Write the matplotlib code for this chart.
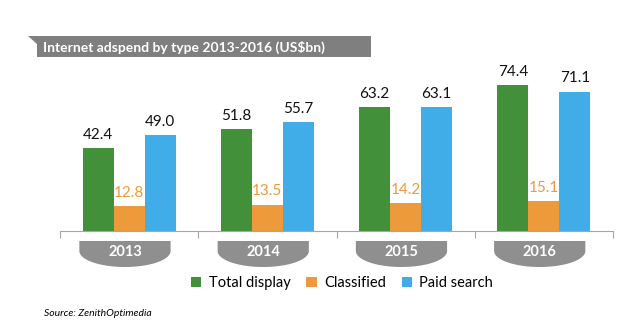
import matplotlib
matplotlib.use("Agg")
import matplotlib.pyplot as plt
import numpy as np
from matplotlib.patches import Polygon, Patch
from matplotlib.transforms import blended_transform_factory

plt.rcParams["font.family"] = ["Lato", "DejaVu Sans"]

years = ["2013", "2014", "2015", "2016"]
series = ["Total display", "Classified", "Paid search"]
total_display = [42.4, 51.8, 63.2, 74.4]
classified = [12.8, 13.5, 14.2, 15.1]
paid_search = [49.0, 55.7, 63.1, 71.1]
colors = ["#43903A", "#EC9A3A", "#40ADE8"]
label_colors = ["#111111", "#EC9A3A", "#111111"]

W, H = 640, 333
fig = plt.figure(figsize=(W / 100, H / 100), dpi=100)

# axes placed in pixel terms: x 60..613, baseline at y=231
ax = fig.add_axes([60 / W, 1 - 231 / H, 553 / W, (231 - 78) / H])
x = np.arange(len(years))
width = 0.224
for i, (vals, c, lc) in enumerate(zip([total_display, classified, paid_search], colors, label_colors)):
    pos = x + (i - 1) * width
    ax.bar(pos, vals, width, color=c, linewidth=0)
    for p, v in zip(pos, vals):
        ax.text(p, v + 3.2, f"{v:.1f}", ha="center", va="bottom", fontsize=11, color=lc)

ax.set_xlim(-0.5, len(years) - 0.5)
ax.set_ylim(0, (231 - 78) / 1.96)
for s in ["top", "right", "left"]:
    ax.spines[s].set_visible(False)
ax.spines["bottom"].set_color("#a6a6a6")
ax.set_yticks([])
ax.set_xticks(np.arange(-0.5, len(years)), labels=[""] * (len(years) + 1))
ax.tick_params(axis="x", direction="out", length=5, color="#a6a6a6")

# year "bowl" labels under the axis
tr = blended_transform_factory(ax.transData, fig.transFigure)
half = 0.33
shift = -0.03
top, side, bottom = 1 - 241 / H, 1 - 251 / H, 1 - 267 / H
t = np.linspace(0, np.pi, 60)
for xi, yr in zip(x + shift, years):
    arc_x = xi + half * np.cos(t)
    arc_y = side - (side - bottom) * np.sin(t)
    pts = [(xi - half, top), (xi + half, top)] + list(zip(arc_x, arc_y)) + [(xi - half, top)]
    fig.add_artist(Polygon(pts, closed=True, transform=tr, facecolor="#8f8f8f",
                           edgecolor="none", clip_on=False))
    fig.text(xi, 1 - 252 / H, yr, transform=tr, ha="center", va="center",
             color="white", fontsize=10.5, fontweight="bold")

# title banner
ban = [(28 / W, 1 - 36 / H), (371 / W, 1 - 36 / H), (371 / W, 1 - 57 / H),
       (37 / W, 1 - 57 / H), (37 / W, 1 - 44 / H)]
fig.add_artist(Polygon(ban, closed=True, transform=fig.transFigure,
                       facecolor="#7f7f7f", edgecolor="none"))
fig.text(43 / W, 1 - 47 / H, "Internet adspend by type 2013-2016 (US$bn)",
         color="white", fontsize=10, fontweight="bold", va="center", ha="left")

handles = [Patch(facecolor=c, edgecolor="none") for c in colors]
fig.legend(handles, series, loc="center", bbox_to_anchor=(342 / W, 1 - 283 / H),
           ncol=3, frameon=False, fontsize=10.5, handlelength=0.7, handleheight=0.7,
           handletextpad=0.5, columnspacing=1.1)

fig.text(44 / W, 1 - 313 / H, "Source: ZenithOptimedia", fontsize=7.5, style="italic",
         va="center", ha="left")

fig.savefig("out.png", dpi=100)
